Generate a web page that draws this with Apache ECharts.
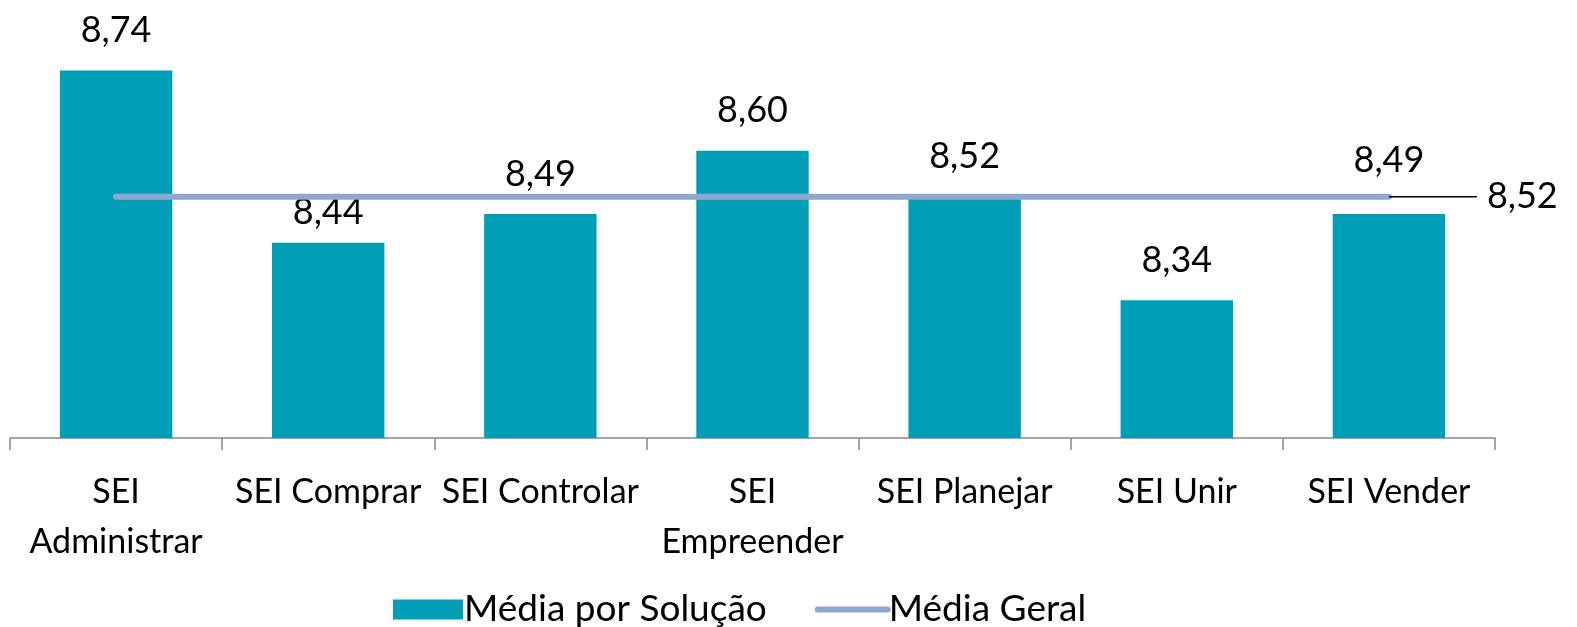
<!DOCTYPE html>
<html>
<head>
<meta charset="utf-8">
<script src="https://cdn.jsdelivr.net/npm/echarts@6/dist/echarts.min.js"></script>
<style>
  html, body { margin: 0; padding: 0; background: #fff; }
  #chart { width: 1577px; height: 627px; }
</style>
</head>
<body>
<div id="chart"></div>
<script>
const categories = ['SEI\nAdministrar', 'SEI Comprar', 'SEI Controlar', 'SEI\nEmpreender', 'SEI Planejar', 'SEI Unir', 'SEI Vender'];
const mediaSolucao = [8.74, 8.44, 8.49, 8.60, 8.52, 8.34, 8.49];
const mediaGeral = [8.52, 8.52, 8.52, 8.52, 8.52, 8.52, 8.52];

const fmt = v => v.toFixed(2).replace('.', ',');
const font = 'Lato, "Open Sans", sans-serif';

const myChart = echarts.init(document.getElementById('chart'));

// a couple of labels sit at a different distance from their bar (as in the original)
const labelDistance = { 1: 12, 6: 36 };
const barData = mediaSolucao.map((v, i) =>
  labelDistance[i] ? { value: v, label: { distance: labelDistance[i] } } : v
);

let option = {
  animation: false,
  textStyle: { fontFamily: font },
  grid: {
    left: 10,
    right: 82,
    top: 36,
    bottom: 189,
  },
  legend: {
    top: 586,
    left: 388,
    itemWidth: 70,
    itemHeight: 20,
    itemGap: 48,
    textStyle: { fontSize: 37, color: '#000', fontFamily: font, padding: [0, 0, 0, -4] },
    data: [
      { name: 'Média por Solução', icon: 'rect' },
      { name: 'Média Geral', itemStyle: { opacity: 0 }, lineStyle: { width: 6, color: '#8FA6CF' } },
    ],
  },
  xAxis: {
    type: 'category',
    data: categories,
    axisLine: { lineStyle: { color: '#888', width: 1.5 } },
    axisTick: { show: true, length: 12, lineStyle: { color: '#888', width: 1.5 } },
    axisLabel: {
      interval: 0,
      margin: 29,
      fontSize: 34,
      lineHeight: 50,
      color: '#000',
      fontFamily: font,
    },
  },
  yAxis: {
    type: 'value',
    min: 8.1,
    max: 8.8,
    show: false,
    splitLine: { show: false },
  },
  series: [
    {
      name: 'Média por Solução',
      type: 'bar',
      data: barData,
      barWidth: '53%',
      itemStyle: { color: '#009FB7' },
      label: {
        show: true,
        position: 'top',
        distance: 22,
        fontSize: 36,
        color: '#000',
        fontFamily: font,
        formatter: p => fmt(p.value),
      },
    },
    {
      name: 'Média Geral',
      type: 'line',
      data: mediaGeral,
      symbol: 'none',
      showSymbol: false,
      lineStyle: { color: '#8FA6CF', width: 6, cap: 'round' },
      itemStyle: { color: '#8FA6CF' },
      z: 5,
      endLabel: {
        show: true,
        distance: 0,
        formatter: p => '{l|}{v|' + fmt(p.value) + '}',
        rich: {
          l: { width: 88, height: 1.5, backgroundColor: '#000' },
          v: { fontSize: 36, color: '#000', fontFamily: font, padding: [0, 0, 0, 10] },
        },
      },
    },
  ],
};

myChart.setOption(option);
</script>
</body>
</html>
